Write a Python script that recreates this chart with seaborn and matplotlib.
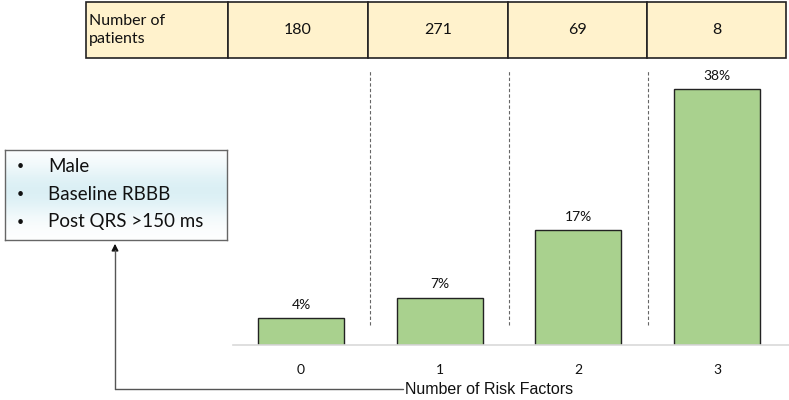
import matplotlib
matplotlib.use("Agg")
import matplotlib.pyplot as plt
import numpy as np
import pandas as pd
import seaborn as sns
from matplotlib.patches import Rectangle
from matplotlib.lines import Line2D

# Data
risk_factors = ["0", "1", "2", "3"]
event_rate = [4, 7, 17, 38]
bar_labels = ["4%", "7%", "17%", "38%"]
patients = ["180", "271", "69", "8"]
factor_list = ["Male", "Baseline RBBB", "Post QRS >150 ms"]

df = pd.DataFrame({"factors": risk_factors, "rate": event_rate})

sns.set_theme(style="white")
plt.rcParams["font.family"] = ["Lato", "DejaVu Sans"]

W, H = 789, 400
fig = plt.figure(figsize=(W / 100, H / 100), dpi=100)

def fx(px):
    return px / W

def fy(py):
    return 1 - py / H

# Main bar chart
ax = fig.add_axes([fx(233), fy(345), fx(789) - fx(233), fy(62) - fy(345)])
sns.barplot(data=df, x="factors", y="rate", color="#A9D18E", saturation=1,
            edgecolor="#222222", linewidth=1, width=0.62, ax=ax)
ax.set_ylim(0, 42)
ax.set_xlim(-0.49, 3.52)
for i, lab in enumerate(bar_labels):
    ax.text(i, event_rate[i] + 1.1, lab, ha="center", va="bottom", fontsize=10, color="#111111")

# dashed separators between groups
for i in range(len(risk_factors) - 1):
    ax.vlines(i + 0.5, 3, 40.8, colors="#666666", linestyles=(0, (3, 2)), linewidth=0.8)

ax.set_yticks([])
ax.set_ylabel("")
ax.set_xlabel("")
ax.tick_params(axis="x", length=0, pad=14, labelsize=10, colors="#111111")
for s in ["top", "right", "left"]:
    ax.spines[s].set_visible(False)
ax.spines["bottom"].set_color("#D9D9D9")
ax.spines["bottom"].set_linewidth(1.2)

fig.text(fx(405), fy(389), "Number of Risk Factors", ha="left", va="center",
         fontsize=11.5, family="Liberation Sans", color="#111111")

# Table of patient counts at the top
col_edges = [86, 228, 368, 508, 647, 786]
top, bottom = 2, 58
for j in range(len(col_edges) - 1):
    x0, x1 = col_edges[j], col_edges[j + 1]
    fig.add_artist(Rectangle((fx(x0), fy(bottom)), fx(x1) - fx(x0), fy(top) - fy(bottom),
                             facecolor="#FFF2CC", edgecolor="#222222", linewidth=1.2,
                             transform=fig.transFigure))
    if j == 0:
        fig.text(fx(x0 + 3), fy(30), "Number of\npatients", ha="left", va="center",
                 fontsize=11.5, linespacing=1.3, color="#111111")
    else:
        fig.text(fx((x0 + x1) / 2), fy(30), patients[j - 1], ha="center", va="center",
                 fontsize=11.5, color="#111111")

# Risk factor box with gradient fill
bx = fig.add_axes([fx(5), fy(240), fx(227) - fx(5), fy(150) - fy(240)])
t = np.linspace(0, 1, 100)
grad = np.exp(-((t - 0.45) / 0.3) ** 2)
white = np.array([1.0, 1.0, 1.0])
cyan = np.array([0.86, 0.94, 0.96])
img = (white[None, :] * (1 - grad[:, None]) + cyan[None, :] * grad[:, None])[:, None, :]
bx.imshow(img, aspect="auto", extent=[0, 1, 0, 1], origin="upper")
bx.set_xlim(0, 1)
bx.set_ylim(0, 1)
bx.set_xticks([])
bx.set_yticks([])
for s in bx.spines.values():
    s.set_color("#666666")
    s.set_linewidth(1.0)
for k, item in enumerate(factor_list):
    yk = 0.82 - k * 0.31
    bx.text(0.07, yk, "\u2022", ha="center", va="center", fontsize=9, color="#111111")
    bx.text(0.195, yk, item, ha="left", va="center", fontsize=13.5, color="#111111")

# Connector from axis label to the box
fig.add_artist(Line2D([fx(115), fx(403)], [fy(389), fy(389)], color="#555555",
                      linewidth=1.0, transform=fig.transFigure))
fig.add_artist(Line2D([fx(115), fx(115)], [fy(389), fy(250)], color="#555555",
                      linewidth=1.0, transform=fig.transFigure))
fig.patches.append(matplotlib.patches.FancyArrowPatch(
    (fx(115), fy(252)), (fx(115), fy(241)), transform=fig.transFigure,
    arrowstyle="-|>", mutation_scale=10, color="#111111", linewidth=1.0))

fig.savefig("out.png", dpi=100)
